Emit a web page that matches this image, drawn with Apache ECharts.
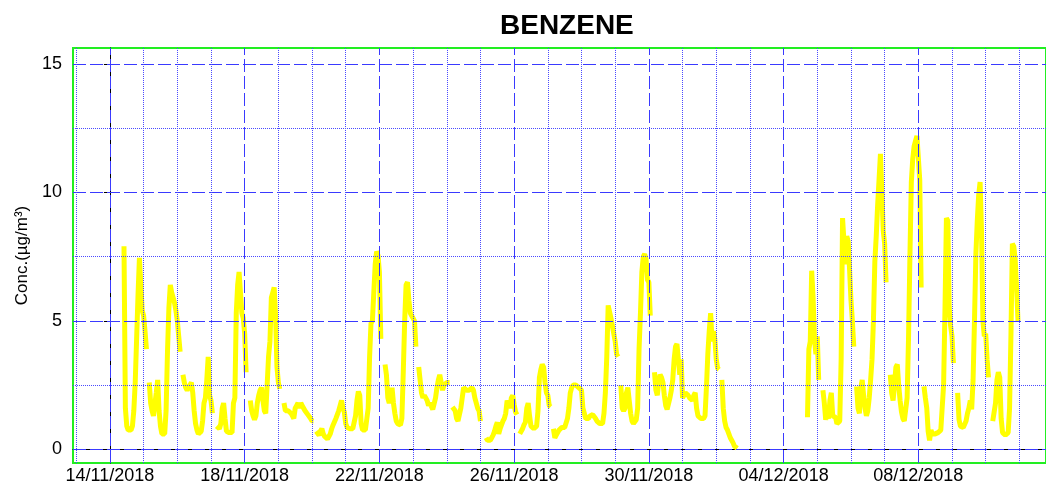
<!DOCTYPE html>
<html>
<head>
<meta charset="utf-8">
<title>BENZENE</title>
<script src="https://cdn.jsdelivr.net/npm/echarts@6/dist/echarts.min.js"></script>
<style>
  html, body { margin: 0; padding: 0; background: #fff; }
  #chart { width: 1046px; height: 486px; }
</style>
</head>
<body>
<div id="chart"></div>
<script>
// hourly benzene, hours counted from 14/11/2018 00:00
// every run of consecutive hours starts at segStart[i], gaps between runs = missing data
const segStart = [10, 28, 52, 76, 100, 124, 147, 196, 220, 244, 268, 292, 316, 364, 388, 436, 497, 508, 532, 556, 580, 604, 629];
const segValues = [
  [7.9, 1.6, 0.9, 0.75, 0.7, 0.75, 0.9, 1.5, 2.6, 4.3, 6.0, 7.45, 6.4, 5.4, 5.2, 4.6, 3.9],
  [2.6, 1.8, 1.5, 1.3, 1.3, 2.2, 2.7, 1.5, 0.9, 0.6, 0.55, 0.6, 1.5, 3.8, 5.5, 6.4, 6.1, 5.9, 5.7, 5.4, 5.0, 4.4, 3.8],
  [2.9, 2.6, 2.4, 2.3, 2.35, 2.5, 2.6, 2.2, 1.5, 1.0, 0.75, 0.6, 0.65, 0.7, 1.1, 1.8, 2.0, 2.7, 3.6, 2.1, 1.9, 1.4],
  [0.9, 0.85, 0.8, 1.0, 1.6, 1.8, 1.2, 0.7, 0.7, 0.65, 0.65, 0.65, 1.8, 2.0, 5.3, 6.4, 6.9, 6.9, 5.3, 5.1, 4.5, 3.0],
  [1.9, 1.5, 1.3, 1.15, 1.3, 1.8, 2.1, 2.3, 2.4, 1.9, 1.5, 1.4, 2.5, 3.6, 4.2, 5.9, 6.1, 6.3, 5.2, 3.2, 2.6, 2.35],
  [1.8, 1.5, 1.55, 1.5, 1.5, 1.4, 1.3, 1.2, 1.6, 1.7, 1.8, 1.6, 1.8, 1.7, 1.6, 1.5, 1.45, 1.35, 1.3, 1.2, 1.1, 1.1],
  [0.7, 0.65, 0.55, 0.7, 0.8, 0.6, 0.5, 0.45, 0.4, 0.5, 0.6, 0.8, 0.95, 1.0, 1.2, 1.35, 1.5, 1.7, 1.9, 1.6, 1.45, 1.0,
   0.85, 0.8, 0.8, 0.8, 0.8, 0.85, 1.3, 1.9, 2.25, 2.1, 1.0, 0.75, 0.75, 0.75, 0.75, 1.6, 3.6, 4.9, 5.0, 5.0, 7.2, 7.7, 7.55, 6.9, 4.3],
  [3.3, 2.9, 2.0, 1.8, 2.0, 2.4, 1.8, 1.4, 1.1, 1.0, 0.95, 0.95, 1.2, 3.0, 5.0, 6.4, 6.5, 5.8, 5.3, 5.2, 5.1, 5.0, 4.0],
  [3.2, 2.7, 2.2, 2.0, 2.1, 2.0, 1.9, 1.7, 1.8, 1.85, 1.55, 1.55, 2.0, 2.4, 2.7, 2.9, 2.6, 2.3, 2.5, 2.55, 2.6, 2.6, 2.6],
  [1.65, 1.6, 1.5, 1.2, 1.1, 1.15, 1.6, 2.0, 2.4, 2.45, 2.3, 2.25, 2.3, 2.35, 2.4, 2.3, 2.0, 1.95, 1.6, 1.5, 1.1],
  [0.45, 0.35, 0.3, 0.35, 0.45, 0.55, 0.7, 0.9, 1.05, 0.6, 0.8, 0.95, 1.1, 1.2, 1.4, 1.9, 1.85, 1.6, 2.0, 2.1, 1.75, 1.45, 1.35],
  [0.6, 0.65, 0.8, 0.95, 1.05, 1.6, 1.8, 1.3, 0.9, 0.85, 0.8, 0.8, 0.9, 1.5, 2.8, 3.1, 3.3, 3.2, 2.6, 2.2, 2.1, 1.7, 1.65],
  [0.8, 0.45, 0.55, 0.6, 0.75, 0.8, 0.85, 0.85, 0.85, 0.9, 1.2, 1.6, 2.2, 2.4, 2.5, 2.55, 2.5, 2.45, 2.4, 2.35, 2.3,
   1.6, 1.6, 1.2, 1.2, 1.2, 1.3, 1.35, 1.35, 1.3, 1.2, 1.1, 1.05, 1.0, 1.0, 1.0, 1.4, 2.2, 3.6, 5.6, 5.6, 5.1, 4.8, 4.5, 4.2, 3.7, 3.6],
  [2.5, 1.6, 1.5, 1.6, 2.2, 2.4, 1.9, 1.4, 1.1, 1.0, 1.0, 1.15, 1.6, 3.9, 5.3, 6.9, 7.5, 7.6, 7.4, 6.6, 6.5, 5.2],
  [3.0, 2.3, 2.1, 2.6, 2.9, 2.8, 2.6, 2.1, 1.7, 1.55, 1.6, 2.0, 2.3, 2.7, 3.5, 4.0, 4.1, 3.5, 2.9, 3.5, 2.0, 2.1, 2.2, 2.25,
   2.1, 2.0, 1.95, 1.9, 2.1, 2.2, 1.6, 1.3, 1.3, 1.2, 1.15, 1.2, 1.3, 2.4, 3.7, 4.6, 5.3, 4.2, 4.6, 4.3, 3.5, 3.15, 3.1],
  [2.7, 1.6, 1.1, 0.85, 0.75, 0.6, 0.45, 0.35, 0.25, 0.12, 0.06, 0.04],
  [1.25, 3.9, 4.2, 6.95, 5.9, 4.3, 3.7, 4.4, 2.7],
  [2.3, 1.8, 1.15, 1.4, 1.2, 1.9, 2.2, 1.3, 1.25, 1.25, 1.0, 1.0, 1.1, 3.5, 9.0, 9.0, 7.2, 8.3, 8.1, 7.0, 5.8, 5.0, 4.0],
  [2.45, 1.6, 1.4, 2.4, 2.7, 2.1, 1.6, 1.3, 1.5, 2.0, 2.7, 3.5, 5.0, 7.3, 8.3, 9.5, 10.5, 11.5, 10.0, 8.5, 8.0, 6.5],
  [2.9, 2.2, 1.9, 2.5, 3.2, 3.3, 2.5, 1.9, 1.45, 1.2, 1.1, 1.1, 2.0, 4.3, 7.5, 10.4, 11.3, 11.8, 12.0, 12.2, 12.2, 10.5, 6.3],
  [2.45, 2.0, 1.6, 0.7, 0.35, 0.75, 0.6, 0.6, 0.6, 0.65, 0.65, 0.7, 0.75, 0.8, 2.5, 5.5, 9.0, 8.9, 5.5, 4.8, 4.4, 3.35],
  [2.2, 1.15, 0.9, 0.85, 0.85, 0.85, 1.1, 1.4, 1.6, 1.9, 1.55, 2.7, 5.0, 7.6, 8.9, 9.9, 10.4, 8.5, 5.0, 4.4, 4.5, 3.5, 2.8],
  [1.1, 1.05, 1.8, 2.7, 3.0, 2.8, 1.2, 0.65, 0.6, 0.55, 0.55, 0.65, 1.6, 4.5, 8.0, 7.9, 7.4, 6.3, 5.0]
];

const dateTicks = [0, 4, 8, 12, 16, 20, 24]; // days after 14/11/2018
const yTicks = [0, 5, 10, 15];
const yMinor = [2.5, 7.5, 12.5];

// series data in days
const series = [];
segStart.forEach(function (s, i) {
  if (i > 0) series.push([(s - 0.5) / 24, null]);
  segValues[i].forEach(function (v, k) {
    series.push([(s + k) / 24, v]);
  });
});

// grid lines drawn as mark lines (major dashed, minor dotted), on top of the data like the original
const majorLines = [];
const minorLines = [];
for (let d = -1; d <= 27; d++) {
  if (d % 4 === 0) majorLines.push({ xAxis: d });
  else minorLines.push({ xAxis: d });
}
yTicks.forEach(function (v) { majorLines.push({ yAxis: v }); });
yMinor.forEach(function (v) { minorLines.push({ yAxis: v }); });

function gridSeries(name, lines, color, type) {
  return {
    name: name,
    type: 'line',
    data: [],
    color: color,
    silent: true,
    markLine: {
      silent: true,
      symbol: ['none', 'none'],
      label: { show: false },
      animation: false,
      emphasis: { disabled: true },
      lineStyle: { color: color, width: 1, type: type, opacity: 1 },
      data: lines
    }
  };
}

function fmtDate(v) {
  const dt = new Date(Date.UTC(2018, 10, 14 + Math.round(v)));
  const dd = String(dt.getUTCDate()).padStart(2, '0');
  const mm = String(dt.getUTCMonth() + 1).padStart(2, '0');
  return dd + '/' + mm + '/' + dt.getUTCFullYear();
}

const chart = echarts.init(document.getElementById('chart'));
chart.setOption({
  animation: false,
  textStyle: { fontFamily: 'Liberation Sans, Arial, sans-serif' },
  title: {
    text: 'BENZENE',
    left: 495,
    top: 7,
    textStyle: { fontSize: 28, fontWeight: 'bold', color: '#000' }
  },
  grid: {
    left: 73, top: 48, width: 974, height: 415,
    show: true,
    borderColor: '#22ee22',
    borderWidth: 2,
    backgroundColor: '#fff'
  },
  xAxis: {
    type: 'value',
    min: -1.097,
    max: 27.79,
    axisLine: { lineStyle: { color: '#000', width: 1 } },
    axisTick: { show: true, length: 5, customValues: dateTicks, lineStyle: { color: '#000' } },
    axisLabel: {
      customValues: dateTicks,
      formatter: fmtDate,
      color: '#000',
      fontSize: 18,
      margin: 4
    },
    splitLine: { show: false }
  },
  yAxis: {
    type: 'value',
    min: -0.533,
    max: 15.62,
    name: 'Conc.(µg/m³)',
    nameLocation: 'middle',
    nameGap: 40,
    nameTextStyle: { fontSize: 17, color: '#000' },
    axisLine: { show: true, lineStyle: { color: '#000', width: 1 } },
    axisTick: { show: true, length: 6, customValues: yTicks, lineStyle: { color: '#000' } },
    axisLabel: { customValues: yTicks, color: '#000', fontSize: 18, margin: 11 },
    splitLine: { show: false }
  },
  series: [
    {
      name: 'BENZENE',
      type: 'line',
      data: series,
      showSymbol: false,
      symbol: 'none',
      connectNulls: false,
      color: '#ffff00',
      lineStyle: { color: '#ffff00', width: 5 },
      z: 2
    },
    gridSeries('major', majorLines, '#3a3aff', [13, 4]),
    gridSeries('minor', minorLines, '#4a4aff', [1, 1])
  ]
});
</script>
</body>
</html>
